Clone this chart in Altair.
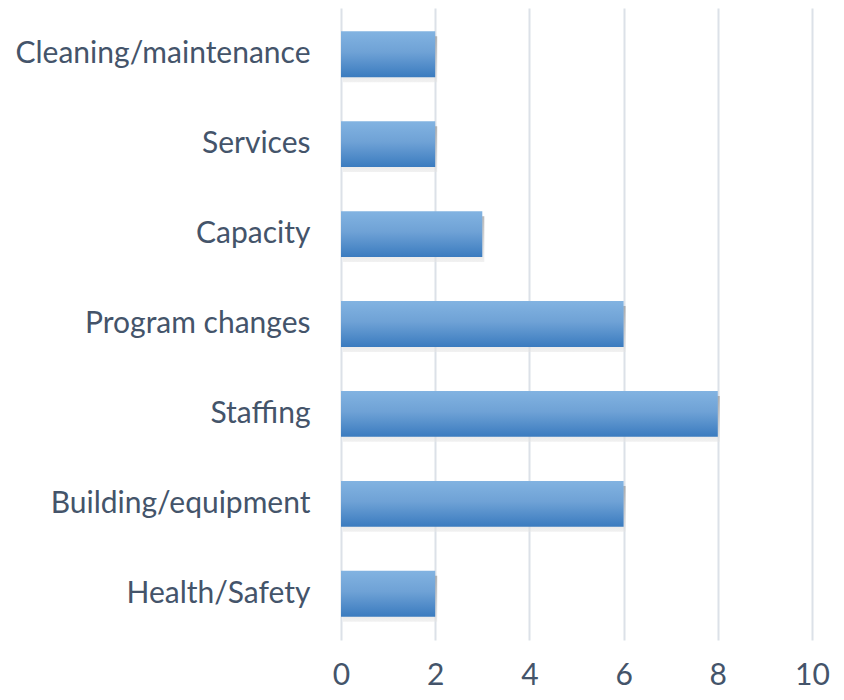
import altair as alt
import pandas as pd

categories = ["Cleaning/maintenance", "Services", "Capacity", "Program changes",
              "Staffing", "Building/equipment", "Health/Safety"]
values = [2, 2, 3, 6, 8, 6, 2]

df = pd.DataFrame({"category": categories, "value": values})

y_enc = alt.Y("category:N", sort=categories, title=None,
              scale=alt.Scale(paddingInner=0.49, paddingOuter=0.26),
              axis=alt.Axis(labelFontSize=30, labelColor="#44546A", labelFont="Lato",
                            labelPadding=31, ticks=False, domain=False, grid=False,
                            labelLimit=400))
x_enc = alt.X("value:Q", title=None,
              scale=alt.Scale(domain=[0, 10], nice=False),
              axis=alt.Axis(values=[0, 2, 4, 6, 8, 10], labelFontSize=30,
                            labelColor="#44546A", labelFont="Lato", labelPadding=20,
                            labelFlush=False,
                            ticks=False, domain=False, grid=True,
                            gridColor="#DCE1E8", gridWidth=2))

shadow = alt.Chart(df).mark_bar(
    yOffset=5, xOffset=2, opacity=0.55,
    color=alt.Gradient(gradient="linear", x1=0, x2=0, y1=0, y2=1,
                       stops=[alt.GradientStop(color="#808080", offset=0),
                              alt.GradientStop(color="#e6e6e6", offset=1)])
).encode(x=x_enc, y=y_enc)

bars = alt.Chart(df).mark_bar(
    color=alt.Gradient(gradient="linear", x1=0, x2=0, y1=0, y2=1,
                       stops=[alt.GradientStop(color="#82B3E1", offset=0),
                              alt.GradientStop(color="#6FA2D6", offset=0.45),
                              alt.GradientStop(color="#3A7BBF", offset=1)])
).encode(x=x_enc, y=y_enc)

chart = alt.layer(shadow, bars).properties(
    width=471, height=632,
    autosize=alt.AutoSizeParams(type="none"),
    padding={"left": 333, "top": 0, "right": 20, "bottom": 52}
).configure_view(stroke=None)

chart.save("out.html", embed_options={"renderer": "svg", "actions": False})
